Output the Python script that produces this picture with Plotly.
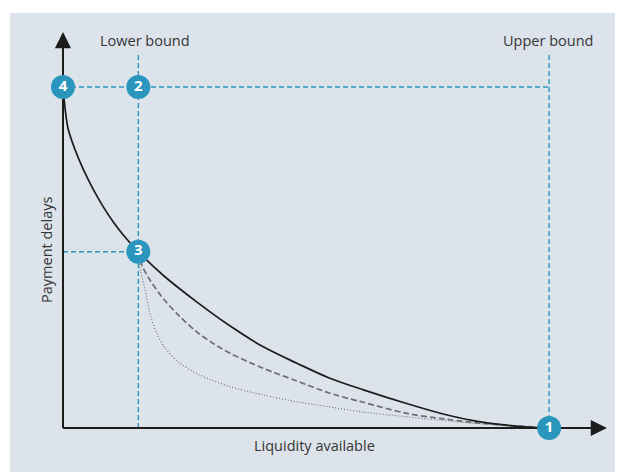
import plotly.graph_objects as go

# Data (normalised: liquidity 0..1 = upper bound, delays 0..1 = point 4)
solid_x = [0.0, 0.002, 0.0103, 0.0247, 0.0418, 0.0623, 0.0829, 0.1035, 0.124, 0.155, 0.206,
           0.275, 0.344, 0.412, 0.481, 0.549, 0.618, 0.707, 0.776, 0.844, 0.913, 0.967, 1.0]
solid_y = [1.0, 0.967, 0.879, 0.8167, 0.7583, 0.6997, 0.6484, 0.6044, 0.5662, 0.517, 0.448,
           0.37, 0.299, 0.238, 0.19, 0.146, 0.112, 0.0718, 0.0434, 0.0217, 0.0082, 0.0023, 0.0]
dashed_x = [0.155, 0.162, 0.179, 0.206, 0.241, 0.275, 0.309, 0.344, 0.412, 0.481, 0.549, 0.611,
            0.707, 0.776, 0.844, 0.913, 1.0]
dashed_y = [0.517, 0.478, 0.434, 0.38, 0.326, 0.282, 0.248, 0.219, 0.175, 0.138, 0.102, 0.078,
            0.043, 0.028, 0.016, 0.008, 0.0]
dotted_x = [0.155, 0.158, 0.169, 0.179, 0.193, 0.213, 0.241, 0.275, 0.344, 0.412, 0.481, 0.549,
            0.611, 0.707, 0.776, 0.844, 0.913, 1.0]
dotted_y = [0.517, 0.473, 0.405, 0.336, 0.277, 0.229, 0.19, 0.16, 0.121, 0.097, 0.077, 0.062,
            0.048, 0.033, 0.023, 0.014, 0.007, 0.0]

lower_bound = 0.155
upper_bound = 1.0
delay_max = 1.0
delay_lower = 0.517
bound_top = 1.094
x_arrow = 1.119
y_arrow = 1.161

point_labels = ["1", "2", "3", "4"]
point_x = [upper_bound, lower_bound, lower_bound, 0.0]
point_y = [0.0, delay_max, delay_lower, delay_max]

BLUE = "#2a96bd"
BG = "#dce3ea"
TXT = "#363636"
AXIS = "#1c1c1c"
FONT = "Open Sans"

fig = go.Figure()

def line(x, y, color, width, dash, shape="linear"):
    ln = dict(color=color, width=width, dash=dash, shape=shape)
    if shape == "spline":
        ln["smoothing"] = 0.9
    fig.add_trace(go.Scatter(x=x, y=y, mode="lines", hoverinfo="skip", line=ln))

# guide lines
line([lower_bound, lower_bound], [0, bound_top], BLUE, 1.4, "5px,3px")
line([upper_bound, upper_bound], [0, bound_top], BLUE, 1.4, "5px,3px")
line([0, upper_bound], [delay_max, delay_max], BLUE, 1.4, "5px,3px")
line([0, lower_bound], [delay_lower, delay_lower], BLUE, 1.4, "5px,3px")

# curves
line(dotted_x, dotted_y, "#6b6e73", 1.1, "1px,2px", "spline")
line(dashed_x, dashed_y, "#6b6e73", 1.7, "6px,3px", "spline")
line(solid_x, solid_y, AXIS, 1.7, "solid", "spline")

# axis lines (as traces, beneath the numbered circles)
line([0, x_arrow - 0.03], [0, 0], AXIS, 2, "solid")
line([0, 0], [0, y_arrow - 0.04], AXIS, 2, "solid")

# arrow heads
fig.add_annotation(x=x_arrow, y=0, ax=x_arrow - 0.04, ay=0, xref="x", yref="y", axref="x", ayref="y",
                   showarrow=True, arrowhead=2, arrowsize=1.8, arrowwidth=1.8,
                   arrowcolor=AXIS, text="")
fig.add_annotation(x=0, y=y_arrow, ax=0, ay=y_arrow - 0.05, xref="x", yref="y", axref="x", ayref="y",
                   showarrow=True, arrowhead=2, arrowsize=1.8, arrowwidth=1.8,
                   arrowcolor=AXIS, text="")

# numbered points
fig.add_trace(go.Scatter(x=point_x, y=point_y, mode="markers+text",
                         text=["<b>%s</b>" % t for t in point_labels],
                         textposition="middle center", hoverinfo="skip",
                         marker=dict(size=24, color=BLUE, line=dict(width=0)),
                         textfont=dict(color="white", size=15, family=FONT)))

# labels
fig.add_annotation(x=0.168, y=1.135, xref="x", yref="y", text="Lower bound",
                   showarrow=False, yanchor="middle", xanchor="center",
                   font=dict(size=14.5, color=TXT, family=FONT))
fig.add_annotation(x=0.997, y=1.135, xref="x", yref="y", text="Upper bound",
                   showarrow=False, yanchor="middle", xanchor="center",
                   font=dict(size=14.5, color=TXT, family=FONT))
fig.add_annotation(x=0.517, y=-0.05, xref="x", yref="y", text="Liquidity available",
                   showarrow=False, yanchor="middle", xanchor="center",
                   font=dict(size=14.5, color=TXT, family=FONT))
fig.add_annotation(x=-0.035, y=0.522, xref="x", yref="y", text="Payment delays",
                   showarrow=False, textangle=-90, xanchor="center", yanchor="middle",
                   font=dict(size=14.5, color=TXT, family=FONT))

# page body has an 8px default margin: figure is 615x464 so the panel sits at (10,13)
fig.update_layout(
    width=615, height=464,
    margin=dict(l=2, r=0, t=5, b=0),
    paper_bgcolor="white", plot_bgcolor=BG,
    showlegend=False,
    xaxis=dict(range=[-0.109, 1.152], visible=False, fixedrange=True),
    yaxis=dict(range=[-0.129, 1.217], visible=False, fixedrange=True),
)

fig.write_html("out.html", config={"displayModeBar": False})
